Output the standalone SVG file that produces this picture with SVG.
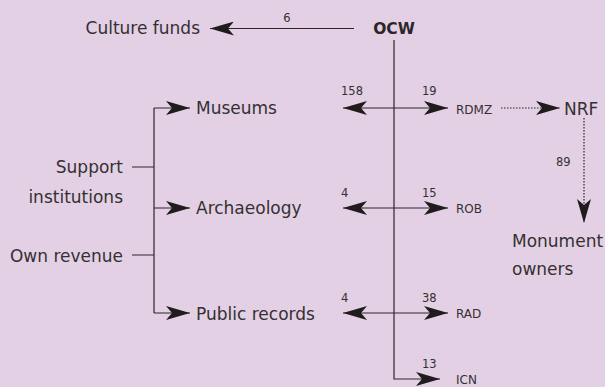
<svg xmlns="http://www.w3.org/2000/svg" width="605" height="387" viewBox="0 0 605 387">
  <style>
    .lbl { font-family: "DejaVu Sans", sans-serif; font-size: 17px; fill: #343032; }
    .num { font-family: "DejaVu Sans", sans-serif; font-size: 11.5px; fill: #343032; }
    .code { font-family: "DejaVu Sans", sans-serif; font-size: 12px; fill: #343032; }
    .ln { fill: none; stroke: #2b2729; stroke-width: 1.2; }
    .dot { fill: none; stroke: #2b2729; stroke-width: 1.2; stroke-dasharray: 1.5 1.5; }
  </style>
  <defs>
    <marker id="head" viewBox="0 0 24 14" refX="24" refY="7" markerWidth="24" markerHeight="14" markerUnits="userSpaceOnUse" orient="auto-start-reverse">
      <path d="M24,7 L0,0 L6,7 L0,14 Z" fill="#201c1e"/>
    </marker>
  </defs>
  <rect width="605" height="387" fill="#e3d0e4"/>

  <g id="connectors">
    <!-- OCW to culture funds -->
    <path class="ln" d="M354,28.5 H210" marker-end="url(#head)"/>
    <!-- OCW trunk down to ICN -->
    <path class="ln" d="M394,40 V379 H440" marker-end="url(#head)"/>
    <!-- two-way links crossing the trunk -->
    <path class="ln" d="M343,108 H448" marker-start="url(#head)" marker-end="url(#head)"/>
    <path class="ln" d="M343,208 H448" marker-start="url(#head)" marker-end="url(#head)"/>
    <path class="ln" d="M343,313 H448" marker-start="url(#head)" marker-end="url(#head)"/>
    <!-- RDMZ to NRF, NRF to monument owners -->
    <path class="dot" d="M501,108 H560" marker-end="url(#head)"/>
    <path class="dot" d="M584,118 V223" marker-end="url(#head)"/>
    <!-- funding sources bracket -->
    <path class="ln" d="M132,167 H154 M132,255 H154 M154,108 V313"/>
    <path class="ln" d="M154,108 H190" marker-end="url(#head)"/>
    <path class="ln" d="M154,208 H190" marker-end="url(#head)"/>
    <path class="ln" d="M154,313 H190" marker-end="url(#head)"/>
  </g>

  <g id="edge-labels">
    <text class="num" x="287" y="22" text-anchor="middle">6</text>
    <text class="num" x="341" y="95">158</text>
    <text class="num" x="422" y="95">19</text>
    <text class="num" x="341" y="197">4</text>
    <text class="num" x="422" y="197">15</text>
    <text class="num" x="341" y="302">4</text>
    <text class="num" x="422" y="302">38</text>
    <text class="num" x="422" y="368">13</text>
    <text class="num" x="556" y="166">89</text>
  </g>

  <g id="ocw"><text x="394" y="34" text-anchor="middle" font-family="DejaVu Sans, sans-serif" font-weight="bold" font-size="15.5" fill="#2b2729">OCW</text></g>
  <g id="culture-funds"><text class="lbl" x="200" y="34" text-anchor="end">Culture funds</text></g>
  <g id="support"><text class="lbl" x="123" y="173" text-anchor="end">Support</text><text class="lbl" x="123" y="203" text-anchor="end">institutions</text></g>
  <g id="own-revenue"><text class="lbl" x="123" y="262" text-anchor="end">Own revenue</text></g>
  <g id="museums"><text class="lbl" x="196" y="114">Museums</text></g>
  <g id="archaeology"><text class="lbl" x="196" y="214">Archaeology</text></g>
  <g id="public-records"><text class="lbl" x="196" y="320">Public records</text></g>
  <g id="rdmz"><text class="code" x="456" y="114">RDMZ</text></g>
  <g id="rob"><text class="code" x="456" y="213">ROB</text></g>
  <g id="rad"><text class="code" x="456" y="318">RAD</text></g>
  <g id="icn"><text class="code" x="456" y="384">ICN</text></g>
  <g id="nrf"><text class="lbl" x="564" y="115" font-size="18">NRF</text></g>
  <g id="monument-owners"><text class="lbl" x="512" y="247">Monument</text><text class="lbl" x="512" y="275">owners</text></g>
</svg>
